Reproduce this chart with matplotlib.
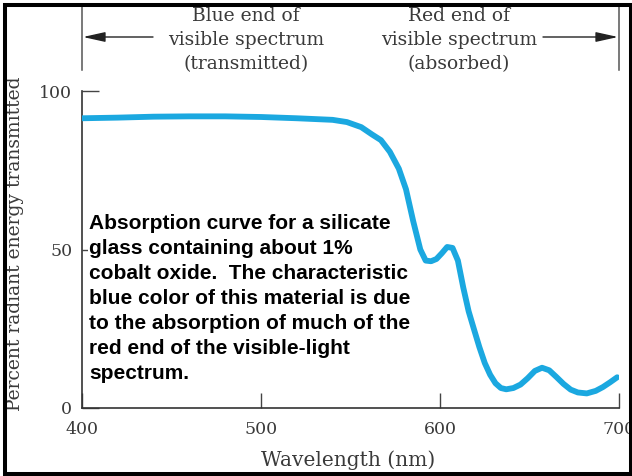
import matplotlib
matplotlib.use("Agg")
import matplotlib.pyplot as plt
from matplotlib.patches import Rectangle
from matplotlib.lines import Line2D
from matplotlib.ticker import FixedLocator

# Transmission of cobalt-oxide silicate glass
wavelength_nm = [400, 420, 440, 460, 480, 500, 520, 540, 548, 556, 562, 567, 572,
                 577, 581, 585, 589, 592, 595, 598, 601, 604, 607, 610, 613, 616,
                 619, 622, 625, 628, 631, 634, 637, 641, 645, 649, 653, 657, 661,
                 665, 669, 673, 677, 682, 687, 691, 695, 699]
transmitted_pct = [91.4, 91.6, 91.9, 92.0, 92.0, 91.8, 91.4, 90.9, 90.2, 88.6, 86.3,
                   84.5, 80.8, 75.5, 69.0, 59.0, 50.0, 46.5, 46.3, 47.0, 48.8, 50.8,
                   50.5, 46.5, 38.0, 30.5, 24.8, 19.2, 14.2, 10.5, 7.8, 6.3, 5.9, 6.3,
                   7.4, 9.4, 11.7, 12.7, 11.9, 9.8, 7.6, 5.8, 4.9, 4.6, 5.4, 6.6, 8.1, 9.7]

x_ticks = [400, 500, 600, 700]
y_ticks = [0, 50, 100]

W, H = 632, 476
SERIF = "DejaVu Serif"
GREY = "#3a3a3a"

def fx(x):
    return x / W

def fy(y):
    return 1 - y / H

fig = plt.figure(figsize=(W / 100, H / 100), dpi=100)
fig.patch.set_facecolor("white")

ax = fig.add_axes([fx(82), fy(408), (619 - 82) / W, (408 - 91) / H])
ax.plot(wavelength_nm, transmitted_pct, color="#1ba8e0", lw=4.2,
        solid_capstyle="round", solid_joinstyle="round", zorder=5)

ax.set_xlim(400, 700)
ax.set_ylim(0, 100)
for side in ("top", "right"):
    ax.spines[side].set_visible(False)
for side in ("left", "bottom"):
    ax.spines[side].set_color("#333333")
    ax.spines[side].set_linewidth(1.2)

ax.set_xticks(x_ticks)
ax.set_yticks(y_ticks)
ax.tick_params(axis="x", direction="in", length=10.5, width=1.0, color="#444444",
               pad=9, labelsize=12.5, labelcolor=GREY)
ax.tick_params(axis="y", direction="in", length=12, width=1.0, color="#444444",
               pad=7, labelsize=12.5, labelcolor=GREY)
ax.yaxis.set_minor_locator(FixedLocator([50]))
ax.tick_params(axis="y", which="minor", direction="out", length=4, width=1.0,
               color="#444444")
for lab in ax.get_xticklabels() + ax.get_yticklabels():
    lab.set_family(SERIF)

# Axis titles
fig.text(fx(348), fy(460), "Wavelength (nm)", family=SERIF, fontsize=14.5,
         color=GREY, ha="center", va="center")
fig.text(fx(15), fy(244), "Percent radiant energy transmitted", family=SERIF,
         fontsize=13.5, color=GREY, rotation=90, ha="center", va="center")

# Spectrum region annotations above the plot
fig.text(fx(246), fy(40), "Blue end of\nvisible spectrum\n(transmitted)",
         family=SERIF, fontsize=13.5, color=GREY, ha="center", va="center",
         linespacing=1.42)
fig.text(fx(459), fy(40), "Red end of\nvisible spectrum\n(absorbed)",
         family=SERIF, fontsize=13.5, color=GREY, ha="center", va="center",
         linespacing=1.42)

for xb in (82, 619):
    fig.add_artist(Line2D([fx(xb), fx(xb)], [fy(7), fy(70)],
                          transform=fig.transFigure, color="#555555", lw=1.1))

arrow_props = dict(arrowstyle="-|>,head_length=1.35,head_width=0.3",
                   color="#222222", lw=1.0, shrinkA=0, shrinkB=0)
fig.add_artist(plt.Annotation("", xy=(fx(83), fy(37)), xytext=(fx(153), fy(37)),
                              xycoords="figure fraction",
                              textcoords="figure fraction",
                              arrowprops=arrow_props))
fig.add_artist(plt.Annotation("", xy=(fx(618), fy(37)), xytext=(fx(543), fy(37)),
                              xycoords="figure fraction",
                              textcoords="figure fraction",
                              arrowprops=arrow_props))

# Caption inside the plot (below the curve, above the tick marks)
caption = ("Absorption curve for a silicate\n"
           "glass containing about 1%\n"
           "cobalt oxide.  The characteristic\n"
           "blue color of this material is due\n"
           "to the absorption of much of the\n"
           "red end of the visible-light\n"
           "spectrum.")
ax.text(fx(89), fy(214), caption, transform=fig.transFigure,
        family="Liberation Sans", fontweight="bold", fontsize=15, color="black",
        ha="left", va="top", linespacing=1.40, zorder=3,
        bbox=dict(facecolor="white", edgecolor="none", pad=1))

# Outer frame
fig.add_artist(Rectangle((fx(5), fy(474)), fx(630.5) - fx(5), fy(5) - fy(474),
                         transform=fig.transFigure, fill=False,
                         edgecolor="black", lw=2.9, zorder=10))

fig.savefig("out.png", dpi=100)
